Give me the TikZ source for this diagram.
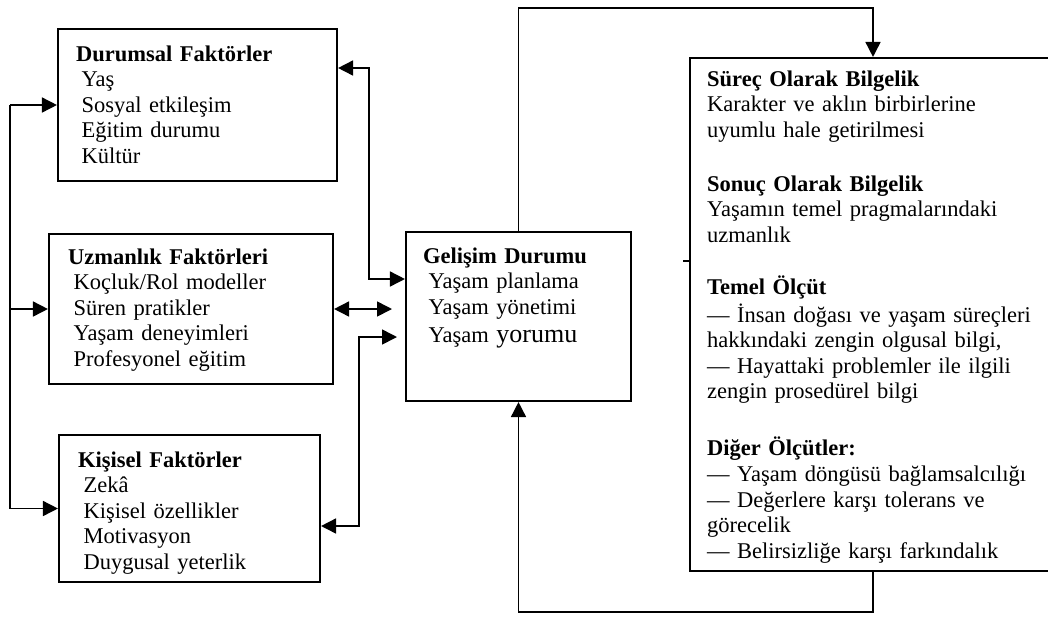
\documentclass[tikz,border=0pt]{standalone}
\usepackage{fontspec}
\setmainfont{Liberation Serif}
\usetikzlibrary{arrows.meta,calc}
\newcommand\itm{\hspace*{5.5pt}}

\begin{document}
\begin{tikzpicture}[x=1pt,y=-1pt,
  box/.style={draw,line width=2.1pt,rectangle,inner sep=0pt},
  txt/.style={anchor=north west,inner sep=0pt,align=left,text width=350pt,
              font=\fontsize{22.5}{25.6}\selectfont},
  link/.style={line width=1.6pt},
  tip/.style={-{Triangle[length=15pt,width=15pt]}},
  tips/.style={{Triangle[length=15pt,width=15pt]}-{Triangle[length=15pt,width=15pt]}}]
\useasboundingbox (0,0) rectangle (1048,619);

% boxes
\node[box,minimum width=279pt,minimum height=152pt] (D) at (197.5,105) {};
\node[box,minimum width=284pt,minimum height=150pt] (U) at (191,309) {};
\node[box,minimum width=261pt,minimum height=147pt] (K) at (189.5,508.5) {};
\node[box,minimum width=225pt,minimum height=169pt] (G) at (518.5,316.5) {};
\node[box,minimum width=366pt,minimum height=513pt] (S) at (873,314.5) {};

% box texts
\node[txt] (Dt) at (76,43) {\strut\textbf{Durumsal Faktörler}\\
  \itm Yaş\\ \itm Sosyal etkileşim\\ \itm Eğitim durumu\\ \itm Kültür};
\node[txt] (Ut) at (68,246) {\strut\textbf{Uzmanlık Faktörleri}\\
  \itm Koçluk/Rol modeller\\ \itm Süren pratikler\\ \itm Yaşam deneyimleri\\ \itm Profesyonel eğitim};
\node[txt] (Kt) at (78,449) {\strut\textbf{Kişisel Faktörler}\\
  \itm Zekâ\\ \itm Kişisel özellikler\\ \itm Motivasyon\\ \itm Duygusal yeterlik};
\node[txt] (Gt) at (423,245) {\strut\textbf{Gelişim Durumu}\\
  \itm Yaşam planlama\\ \itm Yaşam yönetimi\\[3pt]
  \itm Yaşam {\fontsize{26}{28}\selectfont yorumu}};

\node[txt] (S1) at (707,68) {\strut\textbf{Süreç Olarak Bilgelik}\\
  Karakter ve aklın birbirlerine\\ uyumlu hale getirilmesi};
\node[txt] (S2) at (707,173) {\strut\textbf{Sonuç Olarak Bilgelik}\\
  Yaşamın temel pragmalarındaki\\ uzmanlık};
\node[txt] (S3) at (707,276) {\strut\textbf{Temel Ölçüt}\\
  — İnsan doğası ve yaşam süreçleri\\ hakkındaki zengin olgusal bilgi,\\
  — Hayattaki problemler ile ilgili\\ zengin prosedürel bilgi};
\node[txt] (S4) at (707,437) {\strut\textbf{Diğer Ölçütler:}\\
  — Yaşam döngüsü bağlamsalcılığı\\ — Değerlere karşı tolerans ve\\
  görecelik\\ — Belirsizliğe karşı farkındalık};

% left feeder line
\coordinate (L) at (10,0);
\draw[link] (D.west -| L) -- (K.west -| L);
\draw[link,tip] (D.west -| L) -- (D.west);
\draw[link,tip] (U.west -| L) -- (U.west);
\draw[link,tip] (K.west -| L) -- (K.west);

% links between the factor boxes and the development box
\coordinate (a1) at (369,68);
\coordinate (a2) at (369,279);
\draw[link,tips] (D.east |- a1) -- (a1) -- (a2) -- (G.west |- a2);

\coordinate (b) at (392,309);
\draw[link,tips] (U.east) -- (b);

\coordinate (c1) at (397,337);
\coordinate (c2) at (359,337);
\coordinate (c3) at (359,526);
\draw[link,tips] (c1) -- (c2) -- (c3) -- (K.east |- c3);

% loop through the wisdom box
\coordinate (t) at (0,8);
\draw[link,tip] (G.north) -- (G.north |- t) -- (S.north |- t) -- (S.north);
\coordinate (u) at (0,612);
\draw[link,tip] (S.south) -- (S.south |- u) -- (G.south |- u) -- (G.south);

% small tick on the left edge of the wisdom box
\coordinate (m) at (683,261);
\draw[link] (m) -- (S.west |- m);
\end{tikzpicture}
\end{document}
